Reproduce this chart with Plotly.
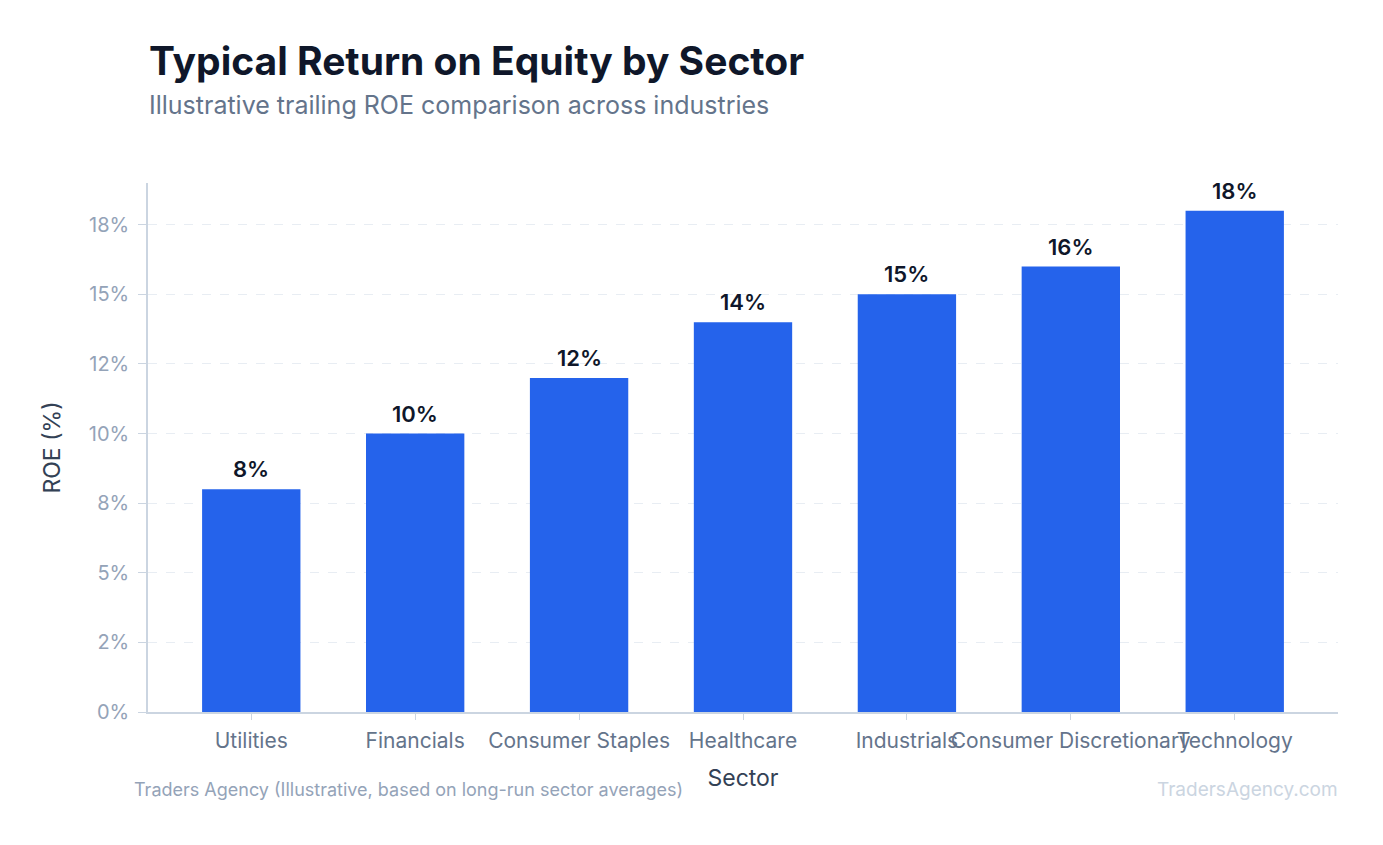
import plotly.graph_objects as go

# sector ROE values (%)
sectors = ["Utilities", "Financials", "Consumer Staples", "Healthcare",
           "Industrials", "Consumer Discretionary", "Technology"]
roe = [8, 10, 12, 14, 15, 16, 18]
bar_labels = ["8%", "10%", "12%", "14%", "15%", "16%", "18%"]

tick_vals = [0, 2.5, 5, 7.5, 10, 12.5, 15, 17.5]
tick_text = ["0%", "2%", "5%", "8%", "10%", "12%", "15%", "18%"]

FONT = "Inter, Roboto, sans-serif"

fig = go.Figure()
fig.add_trace(go.Bar(
    x=sectors, y=roe,
    marker=dict(color="#2563eb", line=dict(width=0)),
    hovertemplate="%{x}: %{y}%<extra></extra>",
))

# value labels above bars
for s, v, t in zip(sectors, roe, bar_labels):
    fig.add_annotation(x=s, y=v, text=t, showarrow=False,
                       yanchor="bottom", yshift=5,
                       font=dict(family=FONT, size=22, color="#0f172a", weight=600))

fig.add_annotation(xref="paper", yref="paper", x=0, y=1.2325, xanchor="left", yanchor="middle",
                   xshift=-1,
                   text="<b>Typical Return on Equity by Sector</b>", showarrow=False,
                   font=dict(family=FONT, size=39, color="#0f172a"))
fig.add_annotation(xref="paper", yref="paper", x=0, y=1.1474, xanchor="left", yanchor="middle",
                   xshift=-1,
                   text="Illustrative trailing ROE comparison across industries", showarrow=False,
                   font=dict(family=FONT, size=25, color="#64748b"))
fig.add_annotation(xref="paper", yref="paper", x=-0.0135, y=-0.1456, xanchor="left", yanchor="middle",
                   text="Traders Agency (Illustrative, based on long-run sector averages)", showarrow=False,
                   font=dict(family=FONT, size=18, color="#94a3b8"))
fig.add_annotation(xref="paper", yref="paper", x=1, y=-0.1456, xanchor="right", yanchor="middle",
                   xshift=2,
                   text="TradersAgency.com", showarrow=False,
                   font=dict(family=FONT, size=19, color="#cbd5e1"))

fig.update_layout(
    width=1383, height=845,
    margin=dict(l=140, r=53, t=175, b=141),
    paper_bgcolor="white", plot_bgcolor="white",
    font=dict(family=FONT),
    bargap=0.4,
    showlegend=False,
    xaxis=dict(
        automargin=False, tickangle=0,
        range=[-0.63, 6.63],
        showline=True, linecolor="#cbd5e1", linewidth=1.5,
        ticks="outside", ticklen=6, tickcolor="#cbd5e1",
        tickfont=dict(size=21, color="#64748b"),
        ticklabelstandoff=3,
        title=dict(text="Sector", font=dict(size=23, color="#334155"), standoff=18),
        showgrid=False,
    ),
    yaxis=dict(
        automargin=False,
        range=[0, 19],
        tickvals=tick_vals, ticktext=tick_text,
        showline=True, linecolor="#cbd5e1", linewidth=1.5,
        ticks="outside", ticklen=8, tickcolor="#cbd5e1",
        tickfont=dict(size=20, color="#94a3b8"),
        ticklabelstandoff=5,
        showgrid=True, gridcolor="#e8edf3", griddash="dash", gridwidth=1,
        zeroline=False,
        title=dict(text="ROE (%)", font=dict(size=23, color="#334155"), standoff=22),
    ),
)

fig.write_html("out.html")
